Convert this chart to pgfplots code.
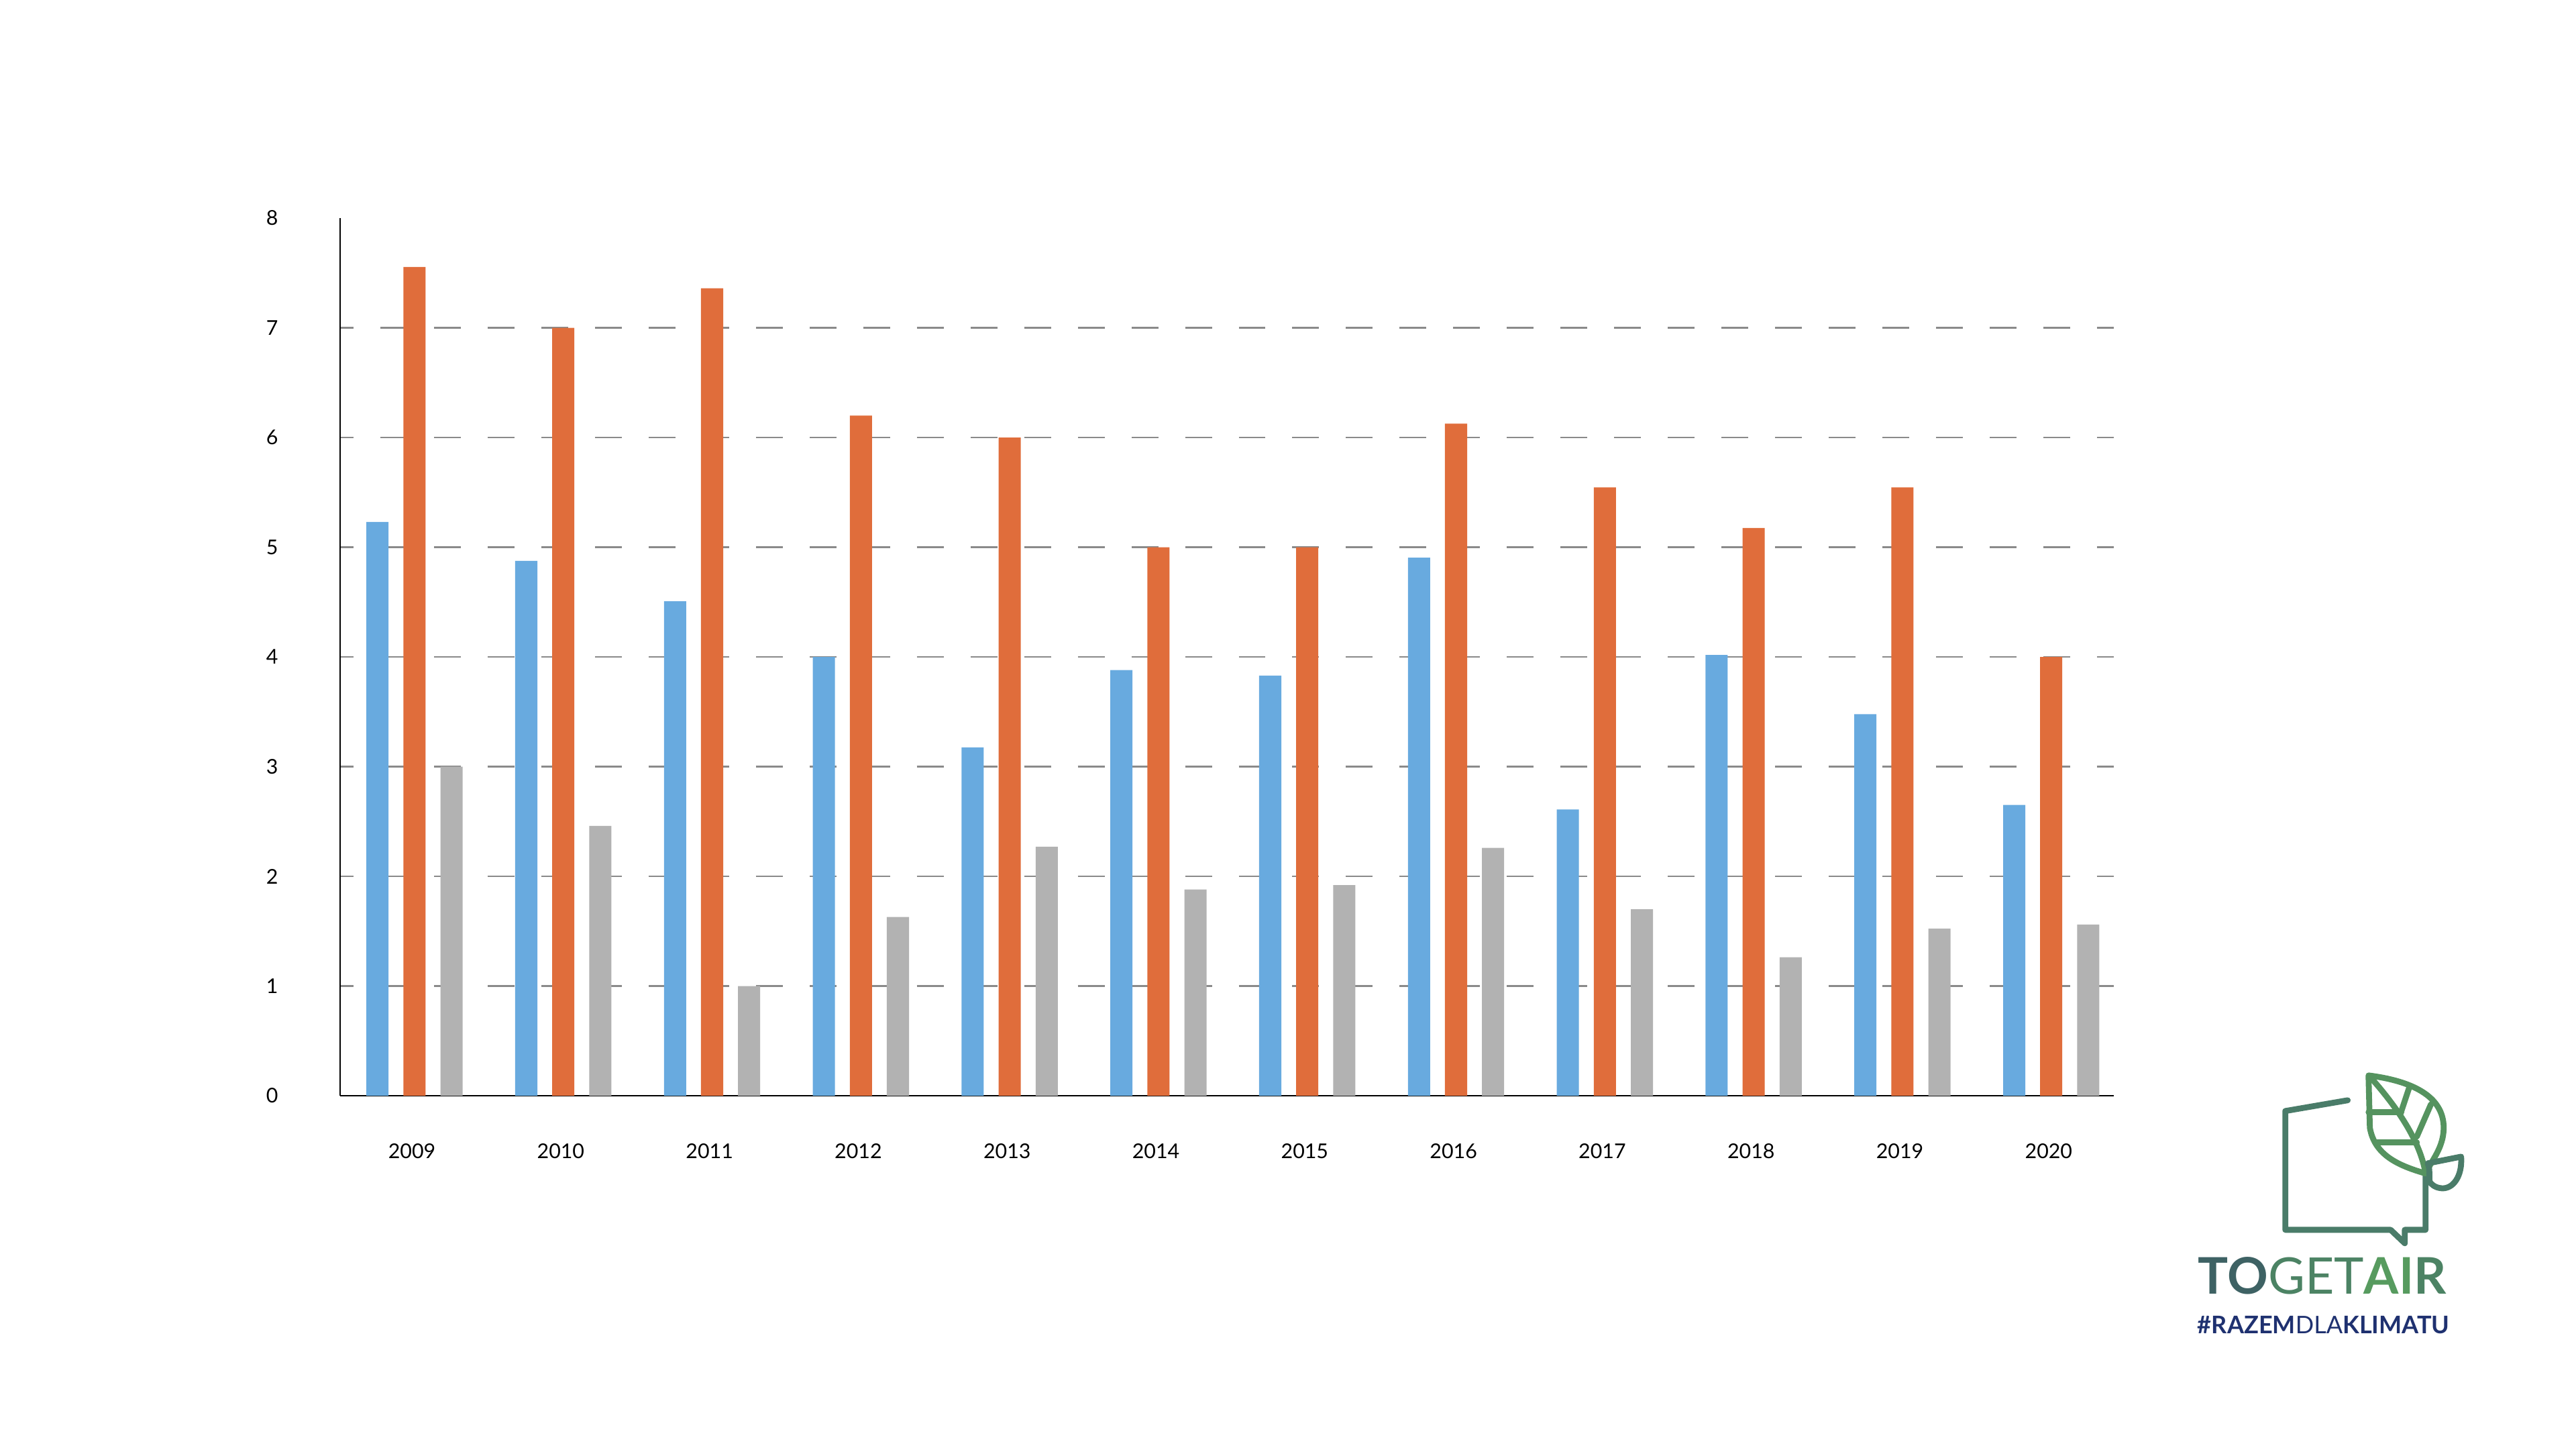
\documentclass[border=0pt]{standalone}
\usepackage{pgfplots}
\pgfplotsset{compat=1.18}
\usepackage{fontspec}
\setmainfont{Lato}
\definecolor{cblue}{HTML}{68AADF}
\definecolor{corange}{HTML}{E06D3B}
\definecolor{cgray}{HTML}{B2B2B2}
\definecolor{gridgray}{HTML}{8A8A8A}
\definecolor{lgteal}{HTML}{3E6264}
\definecolor{lgmid}{HTML}{4C8364}
\definecolor{lggreen}{HTML}{579B5F}
\definecolor{lgbld}{HTML}{4A7C69}
\definecolor{lgleaf}{HTML}{55935F}
\definecolor{lgnavy}{HTML}{1F3170}
\begin{document}
\begin{tikzpicture}
\path[use as bounding box] (0,0) rectangle (40cm,22.5cm);
\begin{axis}[
  at={(5.28125cm,5.4896cm)}, anchor=south west,
  scale only axis, width=27.54cm, height=13.625cm,
  xmin=-0.5, xmax=11.42, ymin=0, ymax=8,
  ybar=0.231cm, bar width=0.344cm,
  axis x line*=bottom, axis y line*=left,
  x axis line style={-, line width=0.6pt, black},
  y axis line style={-, line width=0.35pt, black},
  xtick={0,...,11},
  xticklabels={2009,2010,2011,2012,2013,2014,2015,2016,2017,2018,2019,2020},
  ytick={0,...,7},
  extra y ticks={8},
  extra y tick style={grid=none},
  major tick length=0pt,
  ymajorgrids,
  grid style={gridgray, line width=0.7pt, dash pattern=on 11.85pt off 11.85pt, dash phase=5.9pt},
  /pgf/number format/assume math mode=true,
  tick label style={font=\fontsize{9}{11}\selectfont, black},
  yticklabel style={anchor=east, xshift=-0.84cm},
  xticklabel style={anchor=north, yshift=-0.62cm, xshift=-0.04cm},
]
\addplot[fill=cblue, draw=none] coordinates {(0,5.23) (1,4.876) (2,4.507) (3,4.00) (4,3.175) (5,3.88) (6,3.83) (7,4.905) (8,2.61) (9,4.017) (10,3.478) (11,2.65)};
\addplot[fill=corange, draw=none] coordinates {(0,7.555) (1,7.00) (2,7.36) (3,6.20) (4,6.00) (5,5.00) (6,5.00) (7,6.126) (8,5.545) (9,5.175) (10,5.545) (11,4.00)};
\addplot[fill=cgray, draw=none] coordinates {(0,3.00) (1,2.46) (2,1.00) (3,1.63) (4,2.27) (5,1.88) (6,1.92) (7,2.26) (8,1.70) (9,1.263) (10,1.524) (11,1.56)};
\end{axis}
% logo
\begin{scope}[yshift=22.5cm, x=0.0104167cm, y=-0.0104167cm, line width=2.6pt, line cap=round, line join=round]
\draw[lgbld] (3498,1639) -- (3405,1655) -- (3405,1832) -- (3562,1832) -- (3583,1852) -- (3583,1832) -- (3614,1832) -- (3614,1748);
\draw[lgleaf] (3529,1602) .. controls (3592,1610) and (3641,1632) .. (3641,1680)
   .. controls (3641,1710) and (3622,1730) .. (3614,1748)
   .. controls (3572,1736) and (3538,1720) .. (3531,1680) -- cycle;
\draw[lgleaf] (3533,1606) .. controls (3572,1650) and (3606,1700) .. (3614,1748);
\draw[lgleaf] (3529,1657) -- (3578,1657);
\draw[lgleaf] (3540,1702) -- (3601,1702);
\draw[lgleaf] (3578,1655) -- (3590,1619);
\draw[lgleaf] (3601,1693) -- (3622,1645);
\draw[lgbld] (3617,1733) -- (3667,1723) .. controls (3669,1752) and (3655,1772) .. (3637,1770)
   .. controls (3628,1769) and (3622,1764) .. (3620,1760) .. controls (3619,1750) and (3621,1740) .. cycle;
\node[anchor=base west, inner sep=0pt, font=\fontsize{22.3}{24}\selectfont] at (3271,1928)
  {\textcolor{lgteal}{\bfseries TO}\textcolor{lgmid}{GET}\textcolor{lggreen}{\bfseries AI}\textcolor{lgmid}{\bfseries R}};
\node[anchor=base west, inner sep=0pt, font=\fontsize{10.7}{12}\selectfont, text=lgnavy] at (3270,1987)
  {{\bfseries \#RAZEM}DLA{\bfseries KLIMATU}};
\end{scope}
\end{tikzpicture}
\end{document}
